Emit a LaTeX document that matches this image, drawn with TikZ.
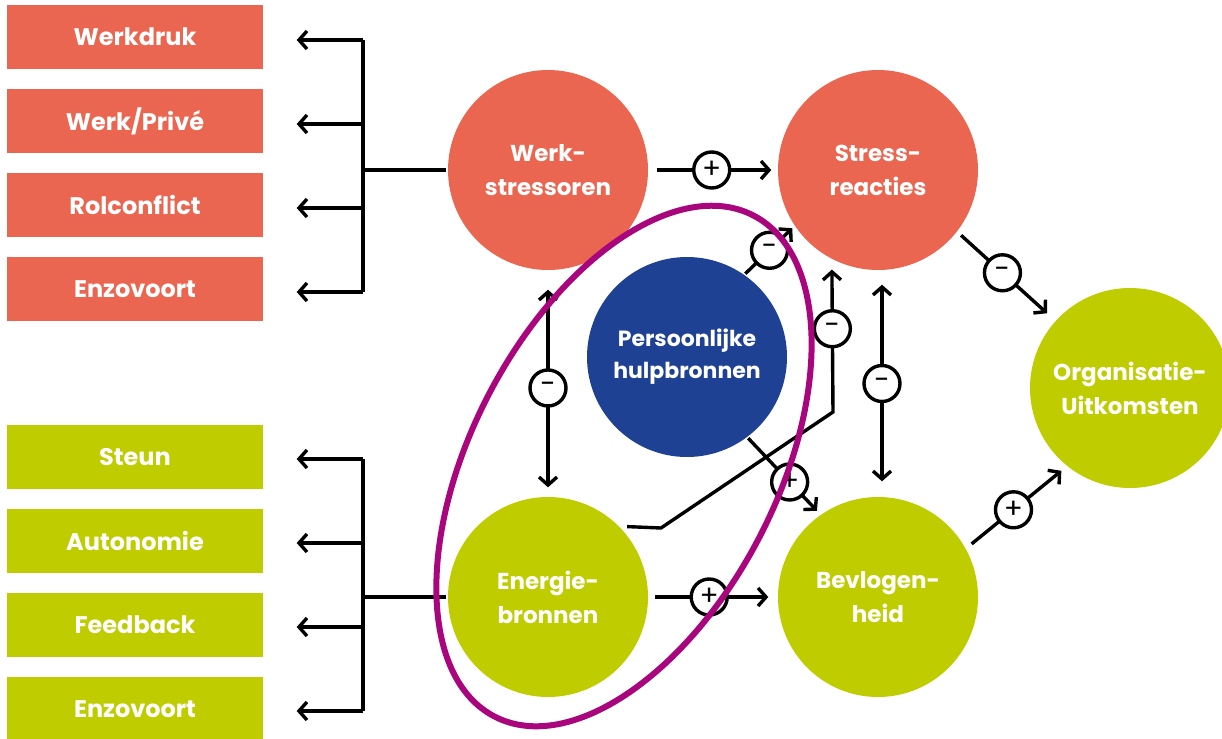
\documentclass[tikz,border=0pt]{standalone}
\usepackage{fontspec}
\setmainfont{Poppins}
\usetikzlibrary{arrows.meta}
\definecolor{Coral}{HTML}{EA6650}
\definecolor{Lime}{HTML}{BFCC00}
\definecolor{Navy}{HTML}{1F4193}
\definecolor{Plum}{HTML}{A9067E}

\begin{document}
\begin{tikzpicture}[x=.5pt,y=-.5pt,>={Straight Barb[length=4pt,width=9pt]},line width=1.7pt,
box/.style={fill=#1,text=white,minimum width=128pt,minimum height=32pt,inner sep=0pt,
  font=\bfseries\fontsize{12}{13}\selectfont},
bol/.style={circle,fill=#1,text=white,minimum size=100pt,inner sep=0pt,align=center,
  font=\bfseries\fontsize{11.5}{17}\selectfont},
pm/.style={circle,draw,fill=white,minimum size=18pt,inner sep=0pt,font=\fontsize{14}{14}\selectfont}]
\useasboundingbox (0,0) rectangle (1222,739);
% left boxes
\path
(135,37) node[box=Coral] (wd) {Werkdruk}
(135,121) node[box=Coral] (wp) {Werk/Privé}
(135,205) node[box=Coral] (rc) {Rolconflict}
(135,289) node[box=Coral] (ez1) {Enzovoort}
(135,457) node[box=Lime] (st) {Steun}
(135,541) node[box=Lime] (au) {Autonomie}
(135,625) node[box=Lime] (fb) {Feedback}
(135,709) node[box=Lime] (ez2) {Enzovoort}
;
% circles
\path
(548,170) node[bol=Coral] (wk) {Werk-\\stressoren}
(878,170) node[bol=Coral] (sr) {Stress-\\reacties}
(687,357) node[bol=Navy,font=\bfseries\fontsize{11}{16}\selectfont] (ph) {Persoonlijke\\hulpbronnen}
(548,597) node[bol=Lime] (en) {Energie-\\bronnen}
(878,597) node[bol=Lime] (bv) {Bevlogen-\\heid}
(1130,388) node[bol=Lime] (ou) {Organisatie-\\Uitkomsten}
;
% trees to the boxes
\foreach \n/\y in {1/40,2/124,3/208,4/292} \coordinate (t\n) at (363,\y);
\foreach \n/\y in {1/459,2/543,3/627,4/711} \coordinate (g\n) at (363,\y);
\draw (t1) -- (t4);
\draw (g1) -- (g4);
\draw (wk) -- (wk -| t1);
\draw (en) -- (en -| g1);
\foreach \n/\b in {1/wd,2/wp,3/rc,4/ez1} \draw[->,shorten >=16pt] (t\n) -- (t\n -| \b.east);
\foreach \n/\b in {1/st,2/au,3/fb,4/ez2} \draw[->,shorten >=16pt] (g\n) -- (g\n -| \b.east);
% links
\coordinate (k1) at (661,528);
\coordinate (k2) at (833,412);
\draw[->,shorten <=3.5pt,shorten >=2.5pt] (wk) -- node[pm,pos=.49]{+} (sr);
\draw[->,shorten <=2.5pt,shorten >=4pt] (en) -- node[pm,pos=.47]{+} (bv);
\draw[<->,shorten <=9pt,shorten >=4pt] (wk) -- node[pm,pos=.52]{-} (en);
\draw[<->,shorten <=6.5pt,shorten >=7pt] ([xshift=2pt]sr.south) -- node[pm]{-} ([xshift=2pt]bv.north);
\draw[->,shorten >=1pt] (ph.55) -- node[pm]{-} (sr.214);
\draw[->,shorten >=2pt] (ph.-53) -- node[pm,pos=.58]{+} (bv.125);
\draw[->,shorten <=2pt,shorten >=5pt] (sr.-38) -- node[pm,pos=.46]{-} (ou.138);
\draw[->,shorten <=3pt,shorten >=3pt] (bv.29) -- node[pm,pos=.47]{+} (ou.231);
\draw[->,shorten <=3pt,shorten >=4.5pt] (en.44) -- (k1) -- (k2) -- node[pm,pos=.55]{-} (sr.243);
% ring round the resources
\coordinate (el) at (624,466);
\draw[Plum,line width=3pt,rotate around={62.7:(el)}] (el) ellipse [x radius=282,y radius=153];
\end{tikzpicture}
\end{document}
